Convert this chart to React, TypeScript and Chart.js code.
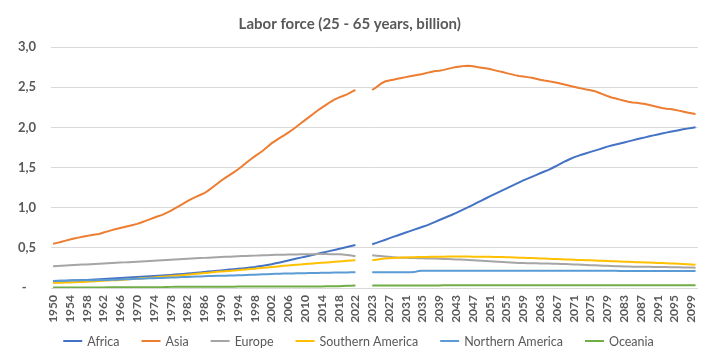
import { useEffect, useRef } from "react";
import { Chart, registerables } from "chart.js";

Chart.register(...registerables);

const FONT = "Lato, 'Liberation Sans', sans-serif";
const TEXT_COLOR = "#595959";
const TITLE = "Labor force (25 - 65 years, billion)";
const TICK_LABEL_STEP = 4;

// Categories: historical years, a short blank gap, projected years
const historicalYears: string[] = [];
for (let y = 1950; y <= 2022; y++) historicalYears.push(String(y));
const gapCategories: string[] = ["", "", ""];
const projectionYears: string[] = [];
for (let y = 2023; y <= 2100; y++) projectionYears.push(String(y));

const yTickValues = [0, 0.5, 1.0, 1.5, 2.0, 2.5, 3.0];

// ---- Series values (billion) ----
// 1950-2022
const africaHist = [
  0.085, 0.087, 0.089, 0.091, 0.093, 0.095, 0.097, 0.099, 0.101, 0.103,
  0.106, 0.109, 0.112, 0.115, 0.118, 0.121, 0.124, 0.127, 0.130, 0.133,
  0.136, 0.139, 0.142, 0.145, 0.148, 0.151, 0.155, 0.159, 0.163, 0.167,
  0.171, 0.175, 0.179, 0.184, 0.189, 0.194, 0.199, 0.204, 0.209, 0.214,
  0.219, 0.224, 0.229, 0.234, 0.239, 0.244, 0.250, 0.256, 0.262, 0.270,
  0.278, 0.287, 0.296, 0.307, 0.318, 0.330, 0.342, 0.354, 0.366, 0.378,
  0.390, 0.402, 0.414, 0.426, 0.438, 0.450, 0.462, 0.474, 0.486, 0.498,
  0.510, 0.523, 0.536,
];
// 2023-2100
const africaProj = [
  0.545, 0.562, 0.580, 0.598, 0.617, 0.636, 0.654,
  0.672, 0.690, 0.708, 0.726, 0.744, 0.762, 0.780, 0.802, 0.824, 0.846,
  0.868, 0.890, 0.912, 0.935, 0.960, 0.985, 1.010, 1.036, 1.062, 1.088,
  1.114, 1.140, 1.165, 1.190, 1.215, 1.240, 1.265, 1.290, 1.315, 1.340,
  1.362, 1.384, 1.406, 1.428, 1.450, 1.470, 1.497, 1.524, 1.551, 1.578,
  1.603, 1.626, 1.645, 1.662, 1.678, 1.694, 1.710, 1.726, 1.743, 1.760,
  1.773, 1.786, 1.799, 1.812, 1.825, 1.838, 1.851, 1.863, 1.875, 1.888,
  1.900, 1.912, 1.923, 1.934, 1.945, 1.955, 1.965, 1.975, 1.984, 1.992,
  2.000,
];

const asiaHist = [
  0.550, 0.562, 0.575, 0.590, 0.603, 0.616, 0.627, 0.637, 0.648, 0.658,
  0.665, 0.672, 0.690, 0.705, 0.720, 0.735, 0.748, 0.760, 0.772, 0.785,
  0.798, 0.815, 0.835, 0.855, 0.875, 0.893, 0.910, 0.935, 0.960, 0.990,
  1.020, 1.050, 1.080, 1.110, 1.135, 1.158, 1.180, 1.215, 1.255, 1.295,
  1.335, 1.370, 1.405, 1.440, 1.475, 1.515, 1.560, 1.600, 1.638, 1.675,
  1.712, 1.755, 1.800, 1.835, 1.868, 1.900, 1.935, 1.970, 2.010, 2.050,
  2.090, 2.130, 2.170, 2.210, 2.245, 2.280, 2.315, 2.345, 2.370, 2.390,
  2.410, 2.438, 2.465,
];
const asiaProj = [
  2.465, 2.500, 2.540, 2.570, 2.582, 2.593, 2.605,
  2.615, 2.625, 2.635, 2.645, 2.655, 2.665, 2.678, 2.690, 2.700, 2.705,
  2.715, 2.728, 2.740, 2.750, 2.758, 2.765, 2.768, 2.760, 2.750, 2.742,
  2.735, 2.725, 2.712, 2.700, 2.688, 2.675, 2.662, 2.650, 2.640, 2.632,
  2.625, 2.618, 2.605, 2.592, 2.582, 2.575, 2.565, 2.555, 2.543, 2.530,
  2.518, 2.505, 2.493, 2.482, 2.470, 2.462, 2.450, 2.430, 2.410, 2.390,
  2.372, 2.358, 2.345, 2.332, 2.318, 2.310, 2.305, 2.298, 2.290, 2.278,
  2.265, 2.252, 2.240, 2.232, 2.228, 2.220, 2.208, 2.196, 2.185, 2.175,
  2.165,
];

const europeHist = [
  0.270, 0.273, 0.276, 0.279, 0.282, 0.285, 0.288, 0.291, 0.294, 0.297,
  0.300, 0.303, 0.306, 0.309, 0.312, 0.314, 0.316, 0.319, 0.322, 0.325,
  0.327, 0.330, 0.333, 0.336, 0.339, 0.342, 0.345, 0.348, 0.351, 0.354,
  0.357, 0.360, 0.363, 0.366, 0.369, 0.372, 0.375, 0.378, 0.381, 0.384,
  0.386, 0.388, 0.390, 0.392, 0.395, 0.397, 0.399, 0.401, 0.403, 0.405,
  0.407, 0.409, 0.411, 0.413, 0.414, 0.415, 0.416, 0.417, 0.418, 0.419,
  0.420, 0.421, 0.421, 0.422, 0.422, 0.422, 0.421, 0.421, 0.420, 0.418,
  0.412, 0.404, 0.396,
];
const europeProj = [
  0.408, 0.402, 0.397, 0.392, 0.388, 0.384, 0.380,
  0.378, 0.376, 0.374, 0.372, 0.370, 0.369, 0.368, 0.367, 0.366, 0.364,
  0.362, 0.360, 0.358, 0.356, 0.354, 0.351, 0.348, 0.345, 0.342, 0.339,
  0.336, 0.333, 0.330, 0.327, 0.324, 0.321, 0.318, 0.315, 0.312, 0.310,
  0.309, 0.308, 0.307, 0.306, 0.305, 0.304, 0.303, 0.302, 0.300, 0.298,
  0.296, 0.294, 0.292, 0.290, 0.287, 0.284, 0.282, 0.280, 0.278, 0.276,
  0.274, 0.272, 0.270, 0.268, 0.267, 0.266, 0.265, 0.264, 0.263, 0.263,
  0.262, 0.262, 0.261, 0.260, 0.259, 0.258, 0.257, 0.256, 0.255, 0.254,
  0.253,
];

const southAmHist = [
  0.062, 0.064, 0.066, 0.068, 0.070, 0.072, 0.074, 0.076, 0.078, 0.080,
  0.083, 0.086, 0.089, 0.092, 0.095, 0.098, 0.101, 0.104, 0.108, 0.112,
  0.116, 0.120, 0.124, 0.128, 0.132, 0.136, 0.140, 0.144, 0.148, 0.152,
  0.156, 0.161, 0.166, 0.171, 0.176, 0.181, 0.186, 0.191, 0.196, 0.201,
  0.205, 0.209, 0.213, 0.217, 0.221, 0.226, 0.231, 0.236, 0.241, 0.246,
  0.251, 0.256, 0.261, 0.266, 0.271, 0.276, 0.281, 0.286, 0.290, 0.294,
  0.298, 0.302, 0.306, 0.310, 0.314, 0.318, 0.322, 0.326, 0.330, 0.334,
  0.338, 0.342, 0.345,
];
const southAmProj = [
  0.345, 0.352, 0.360, 0.366, 0.371, 0.374, 0.377,
  0.379, 0.381, 0.383, 0.384, 0.385, 0.386, 0.387, 0.388, 0.389, 0.390,
  0.390, 0.391, 0.391, 0.391, 0.391, 0.391, 0.391, 0.390, 0.390, 0.389,
  0.389, 0.388, 0.387, 0.386, 0.385, 0.384, 0.382, 0.380, 0.378, 0.376,
  0.374, 0.372, 0.370, 0.368, 0.366, 0.364, 0.362, 0.360, 0.358, 0.356,
  0.354, 0.352, 0.350, 0.348, 0.346, 0.344, 0.342, 0.340, 0.338, 0.336,
  0.334, 0.332, 0.330, 0.328, 0.326, 0.324, 0.322, 0.320, 0.318, 0.316,
  0.314, 0.312, 0.310, 0.308, 0.306, 0.304, 0.302, 0.299, 0.296, 0.293,
  0.290,
];

const northAmHist = [
  0.088, 0.089, 0.090, 0.091, 0.092, 0.093, 0.094, 0.095, 0.096, 0.097,
  0.098, 0.099, 0.100, 0.101, 0.102, 0.104, 0.106, 0.108, 0.110, 0.112,
  0.114, 0.116, 0.118, 0.120, 0.122, 0.124, 0.126, 0.128, 0.130, 0.132,
  0.134, 0.136, 0.138, 0.140, 0.142, 0.144, 0.146, 0.148, 0.150, 0.152,
  0.153, 0.154, 0.155, 0.156, 0.158, 0.160, 0.162, 0.164, 0.166, 0.168,
  0.170, 0.172, 0.174, 0.176, 0.178, 0.180, 0.181, 0.182, 0.183, 0.184,
  0.185, 0.186, 0.187, 0.188, 0.189, 0.190, 0.191, 0.192, 0.193, 0.194,
  0.194, 0.195, 0.195,
];
const northAmProj = [
  0.196, 0.196, 0.196, 0.196, 0.196, 0.196, 0.196,
  0.196, 0.196, 0.197, 0.198, 0.212, 0.214, 0.215, 0.216, 0.216, 0.216,
  0.216, 0.216, 0.216, 0.216, 0.216, 0.216, 0.216, 0.216, 0.216, 0.216,
  0.216, 0.216, 0.216, 0.216, 0.216, 0.216, 0.216, 0.216, 0.216, 0.216,
  0.216, 0.216, 0.215, 0.215, 0.215, 0.215, 0.215, 0.215, 0.214, 0.214,
  0.214, 0.214, 0.214, 0.214, 0.214, 0.214, 0.214, 0.214, 0.214, 0.214,
  0.214, 0.214, 0.213, 0.213, 0.213, 0.213, 0.213, 0.213, 0.213, 0.213,
  0.213, 0.213, 0.212, 0.212, 0.212, 0.212, 0.212, 0.212, 0.212, 0.212,
  0.212,
];

const oceaniaHist = [
  0.006, 0.006, 0.006, 0.006, 0.006, 0.006, 0.007, 0.007, 0.007, 0.007,
  0.007, 0.007, 0.007, 0.008, 0.008, 0.008, 0.008, 0.008, 0.008, 0.009,
  0.009, 0.009, 0.009, 0.009, 0.009, 0.010, 0.010, 0.012, 0.014, 0.015,
  0.015, 0.015, 0.015, 0.016, 0.016, 0.016, 0.016, 0.016, 0.017, 0.017,
  0.017, 0.017, 0.017, 0.017, 0.018, 0.018, 0.018, 0.018, 0.018, 0.018,
  0.019, 0.019, 0.019, 0.019, 0.019, 0.019, 0.019, 0.019, 0.020, 0.020,
  0.020, 0.020, 0.020, 0.020, 0.020, 0.021, 0.021, 0.021, 0.022, 0.024,
  0.027, 0.029, 0.030,
];
const oceaniaProj = [
  0.030, 0.030, 0.031, 0.031, 0.031, 0.031, 0.032,
  0.032, 0.032, 0.032, 0.032, 0.032, 0.032, 0.032, 0.032, 0.032, 0.032,
  0.033, 0.033, 0.033, 0.033, 0.033, 0.033, 0.033, 0.033, 0.033, 0.033,
  0.033, 0.033, 0.033, 0.033, 0.033, 0.033, 0.033, 0.033, 0.033, 0.033,
  0.033, 0.033, 0.033, 0.033, 0.033, 0.033, 0.033, 0.033, 0.033, 0.033,
  0.033, 0.033, 0.033, 0.033, 0.033, 0.033, 0.033, 0.033, 0.033, 0.033,
  0.033, 0.033, 0.033, 0.033, 0.033, 0.033, 0.033, 0.033, 0.033, 0.033,
  0.033, 0.033, 0.033, 0.033, 0.033, 0.033, 0.033, 0.033, 0.033, 0.033,
  0.033,
];

const seriesNames = ["Africa", "Asia", "Europe", "Southern America", "Northern America", "Oceania"];
const seriesColors = ["#4472C4", "#ED7D31", "#A5A5A5", "#FFC000", "#5B9BD5", "#70AD47"];
const seriesHist = [africaHist, asiaHist, europeHist, southAmHist, northAmHist, oceaniaHist];
const seriesProj = [africaProj, asiaProj, europeProj, southAmProj, northAmProj, oceaniaProj];

const categories = [...historicalYears, ...gapCategories, ...projectionYears];

const bottomLegend = {
  id: "bottomLegend",
  afterDraw(chart: any) {
    const ctx = chart.ctx as CanvasRenderingContext2D;
    ctx.save();
    ctx.font = `12.5px ${FONT}`;
    const lineLen = 19;
    const textGap = 5;
    const itemGap = 22;
    const items = chart.data.datasets.map((ds: any) => ({
      label: ds.label as string,
      color: ds.borderColor as string,
      w: lineLen + textGap + ctx.measureText(ds.label).width,
    }));
    const total = items.reduce((s: number, it: any) => s + it.w, 0) + itemGap * (items.length - 1);
    let x = (chart.width - total) / 2;
    const y = chart.height - 15;
    ctx.textBaseline = "middle";
    ctx.textAlign = "left";
    for (const it of items) {
      ctx.strokeStyle = it.color;
      ctx.lineWidth = 2;
      ctx.beginPath();
      ctx.moveTo(x, y);
      ctx.lineTo(x + lineLen, y);
      ctx.stroke();
      ctx.fillStyle = TEXT_COLOR;
      ctx.fillText(it.label, x + lineLen + textGap, y + 1);
      x += it.w + itemGap;
    }
    ctx.restore();
  },
};

export default function App() {
  const canvasRef = useRef<HTMLCanvasElement | null>(null);

  useEffect(() => {
    document.body.style.margin = "0";
    const canvas = canvasRef.current;
    if (!canvas) return;

    const datasets = seriesNames.map((name, i) => ({
      label: name,
      data: [...seriesHist[i], ...gapCategories.map(() => null), ...seriesProj[i]],
      borderColor: seriesColors[i],
      backgroundColor: seriesColors[i],
      borderWidth: 2,
      pointRadius: 0,
      tension: 0,
      spanGaps: false,
      fill: false,
      order: seriesNames.length - i,
    }));

    const chart = new Chart(canvas, {
      type: "line",
      data: { labels: categories, datasets },
      options: {
        responsive: false,
        animation: false,
        devicePixelRatio: 1,
        layout: { padding: { left: 0, right: 17.5, top: 0, bottom: 28 } },
        plugins: {
          legend: { display: false },
          tooltip: { enabled: false },
          title: {
            display: true,
            text: TITLE,
            color: TEXT_COLOR,
            font: { family: FONT, size: 15, weight: "bold", lineHeight: 1.2 },
            padding: { top: 15, bottom: 14 },
          },
        },
        scales: {
          x: {
            type: "category",
            offset: true,
            grid: { display: false, drawTicks: false },
            border: { display: false },
            ticks: {
              autoSkip: false,
              maxRotation: 90,
              minRotation: 90,
              padding: 7,
              color: TEXT_COLOR,
              font: { family: FONT, size: 12, weight: "bold" },
              callback: function (this: any, value: any, index: number) {
                return index % TICK_LABEL_STEP === 0 ? categories[index] : "";
              },
            },
            afterFit: (scale: any) => {
              scale.height = 40;
            },
          },
          y: {
            min: yTickValues[0],
            max: yTickValues[yTickValues.length - 1],
            grid: { color: "#D9D9D9", drawTicks: false, lineWidth: 1 },
            border: { display: false },
            afterBuildTicks: (scale: any) => {
              scale.ticks = yTickValues.map((v) => ({ value: v }));
            },
            ticks: {
              padding: 15,
              color: TEXT_COLOR,
              font: { family: FONT, size: 13, weight: "bold" },
              callback: (value: any) =>
                Number(value) === 0 ? "-   " : Number(value).toFixed(1).replace(".", ","),
            },
            afterFit: (scale: any) => {
              scale.width = 51;
            },
          },
        },
      },
      plugins: [bottomLegend],
    } as any);

    return () => {
      chart.destroy();
    };
  }, []);

  return (
    <div style={{ width: 717, height: 356 }}>
      <canvas ref={canvasRef} width={717} height={356} style={{ display: "block" }} />
    </div>
  );
}
